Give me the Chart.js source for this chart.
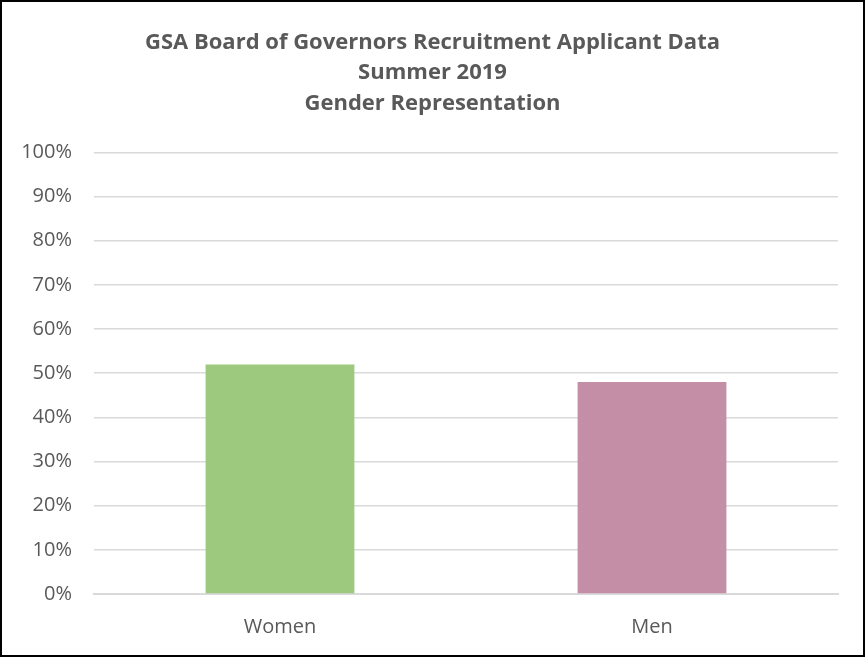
<!doctype html>
<html>

<head>
    <title>Gender Representation</title>
    <script src="https://cdn.jsdelivr.net/npm/chart.js"></script>
    <style>
        body { margin: 0; background: #fff; }
        #frame { width: 865px; height: 657px; box-sizing: border-box; border: 2px solid #000; }
    </style>
</head>

<body>
    <div id="frame">
        <canvas id="gender" width="861" height="653"></canvas>
    </div>

    <script>
        var categories = ['Women', 'Men'];
        var shares = [52, 48];
        var barColors = ['#9dc97f', '#c48fa6'];
        var titleLines = ['GSA Board of Governors Recruitment Applicant Data', 'Summer 2019', 'Gender Representation'];

        var textColor = '#595959';
        var gridColor = '#d9d9d9';

        var chart = new Chart(document.getElementById('gender').getContext('2d'), {
            type: 'bar',
            data: {
                labels: categories,
                datasets: [{
                    data: shares,
                    backgroundColor: barColors,
                    borderWidth: 0,
                    barPercentage: 0.4,
                    categoryPercentage: 1
                }]
            },
            options: {
                responsive: false,
                animation: false,
                layout: {
                    padding: 0
                },
                plugins: {
                    legend: { display: false },
                    tooltip: { enabled: false },
                    title: {
                        display: true,
                        text: titleLines,
                        color: textColor,
                        font: { family: 'Open Sans', size: 22, weight: 'bold', lineHeight: 1.37 },
                        padding: { top: 26, bottom: 34 }
                    }
                },
                scales: {
                    x: {
                        grid: { display: false, drawTicks: false },
                        border: { display: true, color: gridColor, width: 2 },
                        ticks: {
                            color: textColor,
                            padding: 21,
                            font: { family: 'Open Sans', size: 20 }
                        },
                        afterFit: function (scale) { scale.height = 61; }
                    },
                    y: {
                        min: 0,
                        max: 100,
                        grid: { color: gridColor, lineWidth: 1.5, drawTicks: false },
                        border: { display: false },
                        ticks: {
                            stepSize: 10,
                            color: textColor,
                            padding: 22,
                            font: { family: 'Open Sans', size: 20 },
                            callback: function (v) { return v + '%'; }
                        },
                        afterFit: function (scale) { scale.width = 92; }
                    },
                    // empty right-hand margin so the title stays centred on the whole frame
                    spacer: {
                        type: 'linear',
                        position: 'right',
                        grid: { display: false, drawTicks: false },
                        border: { display: false },
                        ticks: { display: false },
                        afterFit: function (scale) { scale.width = 25; }
                    }
                }
            }
        });
    </script>
</body>

</html>
